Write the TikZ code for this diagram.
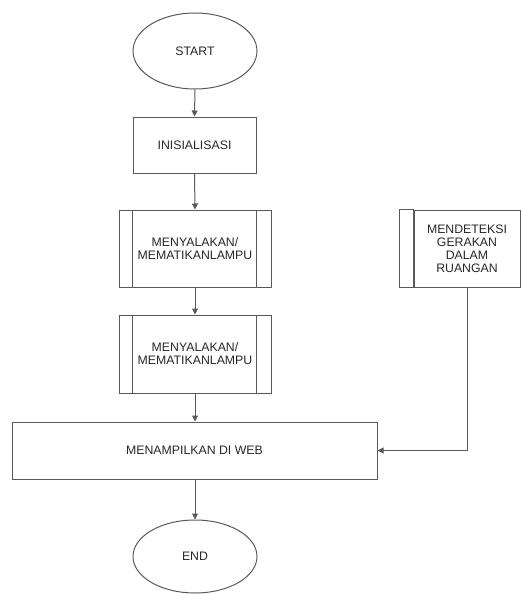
\documentclass[tikz,border=0pt]{standalone}
\usepackage{fontspec}
\setmainfont{Liberation Sans}
\usetikzlibrary{arrows.meta,shapes.geometric}
\begin{document}
\begin{tikzpicture}[x=1pt,y=-1pt,
  edge/.style={draw=black!65,line width=1pt},
  label/.style={font=\fontsize{12.3}{13}\selectfont,text=black!85,align=center},
  term/.style={ellipse,edge,label,inner sep=0pt,minimum width=124pt},
  proc/.style={rectangle,edge,label,inner sep=0pt},
  flow/.style={edge,-{Triangle[width=6pt,length=6pt]}}
]
\useasboundingbox (0,0) rectangle (521,594);

% terminals
\node[term,minimum height=76pt] (start) at (195,51) {START};
\node[term,minimum height=73pt] (end) at (195,556.5) {END};

% main column
\node[proc,minimum width=123pt,minimum height=56pt] (init) at (194.5,145) {INISIALISASI};
\node[proc,minimum width=152pt,minimum height=77pt] (p1) at (195,248.5) {MENYALAKAN/\\MEMATIKANLAMPU};
\node[proc,minimum width=152pt,minimum height=78pt] (p2) at (195,354) {MENYALAKAN/\\MEMATIKANLAMPU};
\node[proc,minimum width=365pt,minimum height=57pt] (web) at (194.5,450.5) {MENAMPILKAN DI WEB};

% side bars of the predefined processes
\foreach \n in {p1,p2}{
  \draw[edge] ([xshift=14pt]\n.north west) -- ([xshift=14pt]\n.south west);
  \draw[edge] ([xshift=-15pt]\n.north east) -- ([xshift=-15pt]\n.south east);
}

% sensor process on the right
\node[proc,minimum width=106pt,minimum height=77pt] (md) at (467,248.5) {MENDETEKSI\\GERAKAN\\DALAM\\RUANGAN};
\draw[edge] ([xshift=-14pt]md.north west) rectangle (md.south west);

% connectors
\draw[flow] (start.south) -- (init.north);
\draw[flow] (init.south) -- (p1.north);
\draw[flow] (p1.south) -- (p2.north);
\draw[flow] (p2.south) -- (p2.south |- web.north);
\draw[flow] (web.south -| end.north) -- (end.north);
\draw[flow] (md.south) |- (web.east);
\end{tikzpicture}
\end{document}
